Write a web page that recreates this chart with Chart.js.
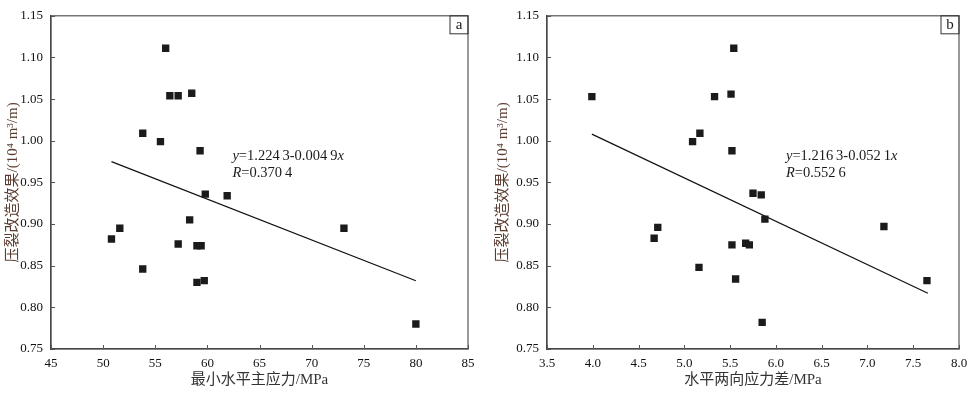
<!DOCTYPE html>
<html>
<head>
<meta charset="utf-8">
<script src="https://cdn.jsdelivr.net/npm/chart.js@4.4.1/dist/chart.umd.min.js"></script>
<style>
  html, body { margin: 0; padding: 0; background: #fff; }
  #wrap { position: relative; width: 975px; height: 394px; }
  canvas { position: absolute; top: 0; }
  #c1 { left: 0; }
  #c2 { left: 490px; }
</style>
</head>
<body>
<div id="wrap">
  <canvas id="c1" width="490" height="394"></canvas>
  <canvas id="c2" width="485" height="394"></canvas>
</div>
<script>
// ---- Data ----
const leftX  = [56.0, 56.4, 57.2, 58.5, 53.8, 55.5, 59.3, 59.8, 61.9, 50.8, 51.6, 53.8, 57.2, 58.3, 59.0, 59.4, 59.0, 59.7, 73.1, 80.0];
const leftY  = [1.111, 1.054, 1.054, 1.057, 1.009, 0.999, 0.988, 0.936, 0.934, 0.882, 0.895, 0.846, 0.876, 0.905, 0.874, 0.874, 0.830, 0.832, 0.895, 0.780];
const leftFitX = [50.8, 80.0];
const leftFitY = [0.975, 0.832];

const rightX = [3.99, 5.54, 5.51, 5.33, 5.17, 5.09, 5.52, 5.75, 5.84, 5.88, 7.18, 7.65, 5.52, 5.67, 5.71, 5.56, 5.85, 4.67, 4.71, 5.16];
const rightY = [1.053, 1.111, 1.056, 1.053, 1.009, 0.999, 0.988, 0.937, 0.935, 0.906, 0.897, 0.832, 0.875, 0.877, 0.875, 0.834, 0.782, 0.883, 0.896, 0.848];
const rightFitX = [3.99, 7.66];
const rightFitY = [1.008, 0.817];

const yTicks = [0.75, 0.80, 0.85, 0.90, 0.95, 1.00, 1.05, 1.10, 1.15];
const yTickLabels = ['0.75', '0.80', '0.85', '0.90', '0.95', '1.00', '1.05', '1.10', '1.15'];
const leftXTicks = [45, 50, 55, 60, 65, 70, 75, 80, 85];
const leftXTickLabels = ['45', '50', '55', '60', '65', '70', '75', '80', '85'];
const rightXTicks = [3.5, 4.0, 4.5, 5.0, 5.5, 6.0, 6.5, 7.0, 7.5, 8.0];
const rightXTickLabels = ['3.5', '4.0', '4.5', '5.0', '5.5', '6.0', '6.5', '7.0', '7.5', '8.0'];

const yTitle = '压裂改造效果/(10⁴ m³/m)';
const leftXTitle = '最小水平主应力/MPa';
const rightXTitle = '水平两向应力差/MPa';
const leftEq = [[['y', true], ['=1.224\u20093-0.004\u20099', false], ['x', true]], [['R', true], ['=0.370\u20094', false]]];
const rightEq = [[['y', true], ['=1.216\u20093-0.052\u20091', false], ['x', true]], [['R', true], ['=0.552\u20096', false]]];

const SERIF = '"Liberation Serif", "Times New Roman", "Noto Sans CJK SC", serif';

function pts(xs, ys) { return xs.map((v, i) => ({ x: v, y: ys[i] })); }

const framePlugin = {
  id: 'frame',
  afterDraw(chart, args, o) {
    const { ctx, chartArea: a, scales: { x, y } } = chart;
    ctx.save();
    ctx.strokeStyle = '#555';
    ctx.lineWidth = 1.2;
    ctx.strokeRect(a.left, a.top, a.right - a.left, a.bottom - a.top);
    ctx.beginPath();
    ctx.lineWidth = 1;
    x.ticks.forEach(t => { const px = Math.round(x.getPixelForValue(t.value)) + 0.5; ctx.moveTo(px, a.bottom); ctx.lineTo(px, a.bottom - 4); });
    y.ticks.forEach(t => { const py = Math.round(y.getPixelForValue(t.value)) + 0.5; ctx.moveTo(a.left, py); ctx.lineTo(a.left + 4, py); });
    ctx.stroke();
    // panel label box
    ctx.strokeStyle = '#333';
    ctx.lineWidth = 1;
    ctx.strokeRect(a.right - 18, a.top, 18, 18);
    ctx.fillStyle = '#1a1a1a';
    ctx.font = '15px ' + SERIF;
    ctx.textAlign = 'center';
    ctx.textBaseline = 'middle';
    ctx.fillText(o.label, a.right - 9, a.top + 9);
    // equation
    ctx.textAlign = 'left';
    ctx.textBaseline = 'middle';
    o.eq.forEach((runs, i) => {
      let px = x.getPixelForValue(o.eqX);
      const py = y.getPixelForValue(o.eqY[i]);
      runs.forEach(([t, it]) => {
        ctx.font = (it ? 'italic ' : '') + '14.5px ' + SERIF;
        ctx.fillText(t, px, py);
        px += ctx.measureText(t).width;
      });
    });
    ctx.restore();
  }
};

function makeChart(id, xs, ys, fx, fy, xTicks, xLabels, xMin, xMax, xTitle, plotLeft, padRight, plug) {
  return new Chart(document.getElementById(id), {
    type: 'scatter',
    data: {
      datasets: [
        { data: pts(xs, ys), pointStyle: 'rect', pointRadius: 5.2, borderWidth: 0,
          backgroundColor: '#1b1b1b', borderColor: '#1b1b1b' },
        { type: 'line', data: pts(fx, fy), showLine: true, pointRadius: 0,
          borderColor: '#111', borderWidth: 1.2, fill: false }
      ]
    },
    options: {
      responsive: false,
      animation: false,
      devicePixelRatio: 1,
      layout: { padding: { left: 0, top: 13, right: padRight, bottom: 0 } },
      plugins: { legend: { display: false }, tooltip: { enabled: false }, frame: plug },
      scales: {
        x: {
          type: 'linear', min: xMin, max: xMax,
          afterBuildTicks: s => { s.ticks = xTicks.map(v => ({ value: v })); },
          afterFit: s => { s.height = 45; },
          grid: { drawOnChartArea: false, drawTicks: false },
          border: { color: '#333', width: 1.3 },
          ticks: { padding: 7, color: '#111', font: { family: SERIF, size: 13 }, maxRotation: 0,
                   callback: (v) => { const i = xTicks.indexOf(v); return i >= 0 ? xLabels[i] : ''; } },
          title: { display: true, text: xTitle, color: '#333', font: { family: SERIF, size: 15 }, padding: { top: 0, bottom: 5 } }
        },
        y: {
          type: 'linear', min: 0.75, max: 1.15,
          afterBuildTicks: s => { s.ticks = yTicks.map(v => ({ value: v })); },
          afterFit: s => { s.width = plotLeft; },
          grid: { drawOnChartArea: false, drawTicks: false },
          border: { color: '#333', width: 1.3 },
          ticks: { padding: 8, color: '#111', font: { family: SERIF, size: 13 },
                   callback: (v) => { const i = yTicks.findIndex(t => Math.abs(t - v) < 1e-9); return i >= 0 ? yTickLabels[i] : ''; } },
          title: { display: true, text: yTitle, color: '#5a3c30', font: { family: SERIF, size: 15 }, padding: { top: 4, bottom: 0 } }
        }
      }
    },
    plugins: [framePlugin]
  });
}

makeChart('c1', leftX, leftY, leftFitX, leftFitY, leftXTicks, leftXTickLabels, 45, 85, leftXTitle, 51, 22,
  { label: 'a', eq: leftEq, eqX: 62.4, eqY: [0.981, 0.961] });
makeChart('c2', rightX, rightY, rightFitX, rightFitY, rightXTicks, rightXTickLabels, 3.5, 8.0, rightXTitle, 57, 16,
  { label: 'b', eq: rightEq, eqX: 6.11, eqY: [0.981, 0.961] });
</script>
</body>
</html>
